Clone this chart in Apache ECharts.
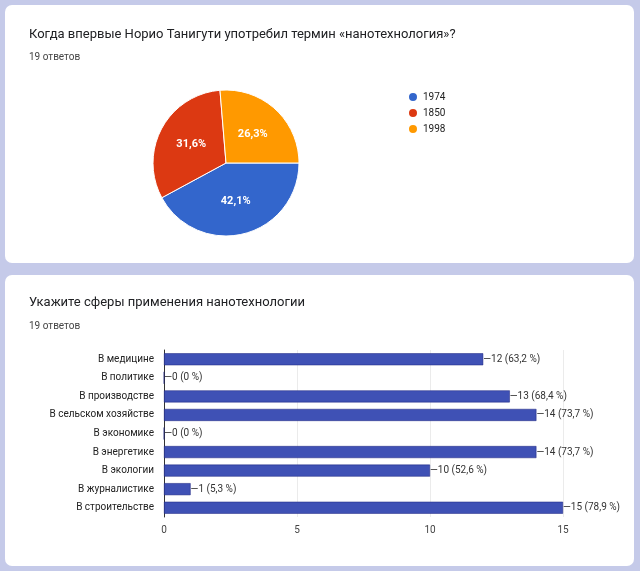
<!DOCTYPE html>
<html><head><meta charset="utf-8">
<script src="https://cdn.jsdelivr.net/npm/echarts@6/dist/echarts.min.js"></script>
<style>html,body{margin:0;padding:0;background:#c5cae9}#c{width:640px;height:571px}</style>
</head><body><div id="c"></div>
<script>
const pieNames = ['1974','1850','1998'];
const pieValues = [8,6,5];
const pieColors = ['#3366cc','#dc3912','#ff9900'];
const barCats = ['В медицине','В политике','В производстве','В сельском хозяйстве','В экономике','В энергетике','В экологии','В журналистике','В строительстве'];
const barValues = [12,0,13,14,0,14,10,1,15];
const barPct = ['63,2','0','68,4','73,7','0','73,7','52,6','5,3','78,9'];
const xTicks = [0,5,10,15];
const F = 'Roboto, Arial, sans-serif';
const chart = echarts.init(document.getElementById('c'));
chart.setOption({
  backgroundColor:'#c5cae9',
  animation:false,
  graphic:[
    {type:'rect',shape:{x:5,y:5,width:629,height:258,r:7},style:{fill:'#fff'},z:-10},
    {type:'rect',shape:{x:5,y:275,width:629,height:291,r:7},style:{fill:'#fff'},z:-10}
  ],
  title:[
    {text:'Когда впервые Норио Танигути употребил термин «нанотехнология»?',left:24,top:23,textStyle:{fontFamily:F,fontSize:13,fontWeight:'normal',color:'#202124'}},
    {text:'19 ответов',left:24,top:47,textStyle:{fontFamily:F,fontSize:10,fontWeight:'normal',color:'#444'}},
    {text:'Укажите сферы применения нанотехнологии',left:24,top:291,textStyle:{fontFamily:F,fontSize:13,fontWeight:'normal',color:'#202124'}},
    {text:'19 ответов',left:24,top:316,textStyle:{fontFamily:F,fontSize:10,fontWeight:'normal',color:'#444'}}
  ],
  legend:{data:pieNames,orient:'vertical',left:402,top:86,itemWidth:10,itemHeight:10,itemGap:4,icon:'circle',
    textStyle:{fontFamily:F,fontSize:10,color:'#222'}},
  grid:{left:164,right:77,top:350,bottom:54},
  xAxis:{type:'value',min:0,max:15,interval:5,
    axisLabel:{fontFamily:F,fontSize:10,color:'#444',customValues:xTicks},
    splitLine:{lineStyle:{color:'#ebebeb'}},axisLine:{show:false},axisTick:{show:false}},
  yAxis:{type:'category',inverse:true,data:barCats,
    axisLine:{show:true,lineStyle:{color:'#333'}},axisTick:{show:false},
    axisLabel:{fontFamily:F,fontSize:10,color:'#222',margin:10}},
  series:[
    {type:'pie',center:[226,163],radius:73,startAngle:0,clockwise:true,
     data:pieNames.map((n,i)=>({name:n,value:pieValues[i],itemStyle:{color:pieColors[i]}})),
     itemStyle:{borderColor:'#fff',borderWidth:1},
     label:{position:'inside',formatter:p=>p.percent.toFixed(1).replace('.',',')+'%',
       fontFamily:F,fontSize:11,fontWeight:'bold',color:'#fff'},
     labelLine:{show:false}},
    {type:'bar',data:barValues,barWidth:12,
     itemStyle:{color:'#3f51b5',borderColor:'#1a237e',borderWidth:0.5},
     label:{show:true,position:'right',distance:0,fontFamily:F,fontSize:10,color:'#333',
       formatter:p=>'—'+p.value+' ('+barPct[p.dataIndex]+' %)'}}
  ]
});
</script></body></html>
